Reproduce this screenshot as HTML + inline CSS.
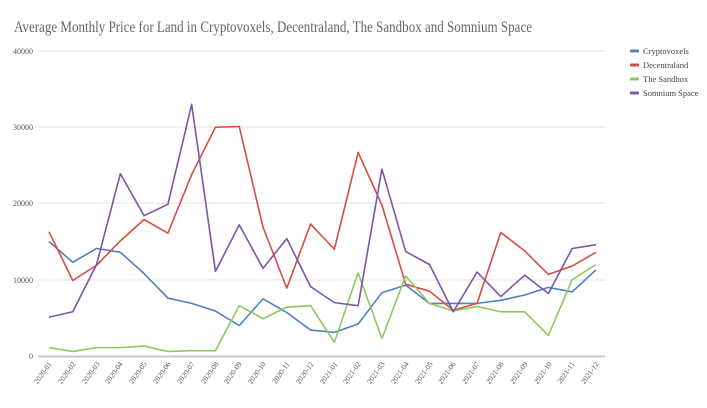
<!DOCTYPE html>
<html><head><meta charset="utf-8"><style>html,body{margin:0;padding:0;background:#fff;}svg{display:block}</style></head>
<body>
<svg width="707" height="408" viewBox="0 0 707 408" xmlns="http://www.w3.org/2000/svg" font-family="Liberation Serif, serif">
<rect width="707" height="408" fill="#fff"/>
<text x="14" y="32" font-size="16" fill="#666" textLength="518" lengthAdjust="spacingAndGlyphs">Average Monthly Price for Land in Cryptovoxels, Decentraland, The Sandbox and Somnium Space</text>
<g stroke="#e0e0e0" stroke-width="1">
<line x1="38" x2="605" y1="51" y2="51"/>
<line x1="38" x2="605" y1="127" y2="127"/>
<line x1="38" x2="605" y1="203" y2="203"/>
<line x1="38" x2="605" y1="280" y2="280"/>
</g>
<line x1="38" x2="605" y1="356.5" y2="356.5" stroke="#c8c8c8" stroke-width="2"/>
<g font-size="8" fill="#555" text-anchor="end">
<text x="33" y="54">40000</text><text x="33" y="130">30000</text><text x="33" y="206">20000</text><text x="33" y="283">10000</text><text x="33" y="359">0</text>
</g>
<g fill="none" stroke-width="1.6" stroke-linejoin="round" transform="translate(49,356) scale(23.78,-0.007625)">
<polyline vector-effect="non-scaling-stroke" stroke="#4e7fc7" points="0,15000 1,12300 2,14100 3,13600 4,10800 5,7600 6,6900 7,5900 8,4000 9,7500 10,5700 11,3400 12,3100 13,4200 14,8300 15,9300 16,6900 17,6900 18,6900 19,7300 20,8000 21,9000 22,8400 23,11300"/>
<polyline vector-effect="non-scaling-stroke" stroke="#d94c40" points="0,16300 1,9900 2,11900 3,15100 4,17900 5,16100 6,23800 7,30000 8,30100 9,16900 10,8900 11,17300 12,14000 13,26700 14,19800 15,9400 16,8500 17,6000 18,6900 19,16200 20,13800 21,10700 22,11800 23,13600"/>
<polyline vector-effect="non-scaling-stroke" stroke="#8fc85c" points="0,1100 1,600 2,1100 3,1100 4,1300 5,600 6,700 7,700 8,6600 9,4900 10,6400 11,6600 12,1800 13,10900 14,2300 15,10500 16,6900 17,5900 18,6500 19,5800 20,5800 21,2700 22,10000 23,12000"/>
<polyline vector-effect="non-scaling-stroke" stroke="#7d55a8" points="0,5100 1,5800 2,12000 3,23900 4,18400 5,19900 6,33000 7,11100 8,17200 9,11500 10,15400 11,9100 12,7000 13,6600 14,24500 15,13700 16,12000 17,5800 18,11000 19,7800 20,10600 21,8200 22,14100 23,14600"/>
</g>
<g font-size="7.5" fill="#555" text-anchor="end">
<text transform="translate(52,364) rotate(-55)">2020-01</text>
<text transform="translate(76,364) rotate(-55)">2020-02</text>
<text transform="translate(100,364) rotate(-55)">2020-03</text>
<text transform="translate(123,364) rotate(-55)">2020-04</text>
<text transform="translate(147,364) rotate(-55)">2020-05</text>
<text transform="translate(171,364) rotate(-55)">2020-06</text>
<text transform="translate(195,364) rotate(-55)">2020-07</text>
<text transform="translate(219,364) rotate(-55)">2020-08</text>
<text transform="translate(242,364) rotate(-55)">2020-09</text>
<text transform="translate(266,364) rotate(-55)">2020-10</text>
<text transform="translate(290,364) rotate(-55)">2020-11</text>
<text transform="translate(314,364) rotate(-55)">2020-12</text>
<text transform="translate(338,364) rotate(-55)">2021-01</text>
<text transform="translate(361,364) rotate(-55)">2021-02</text>
<text transform="translate(385,364) rotate(-55)">2021-03</text>
<text transform="translate(409,364) rotate(-55)">2021-04</text>
<text transform="translate(433,364) rotate(-55)">2021-05</text>
<text transform="translate(456,364) rotate(-55)">2021-06</text>
<text transform="translate(480,364) rotate(-55)">2021-07</text>
<text transform="translate(504,364) rotate(-55)">2021-08</text>
<text transform="translate(528,364) rotate(-55)">2021-09</text>
<text transform="translate(552,364) rotate(-55)">2021-10</text>
<text transform="translate(575,364) rotate(-55)">2021-11</text>
<text transform="translate(599,364) rotate(-55)">2021-12</text>
</g>
<g font-size="8.5" fill="#444">
<rect x="630" y="49.5" width="9" height="3" rx="1" fill="#4e7fc7"/><text x="643" y="54">Cryptovoxels</text>
<rect x="630" y="63.5" width="9" height="3" rx="1" fill="#d94c40"/><text x="643" y="68">Decentraland</text>
<rect x="630" y="77.5" width="9" height="3" rx="1" fill="#8fc85c"/><text x="643" y="82">The Sandbox</text>
<rect x="630" y="91.5" width="9" height="3" rx="1" fill="#7d55a8"/><text x="643" y="96">Somnium Space</text>
</g>
</svg>
</body></html>
